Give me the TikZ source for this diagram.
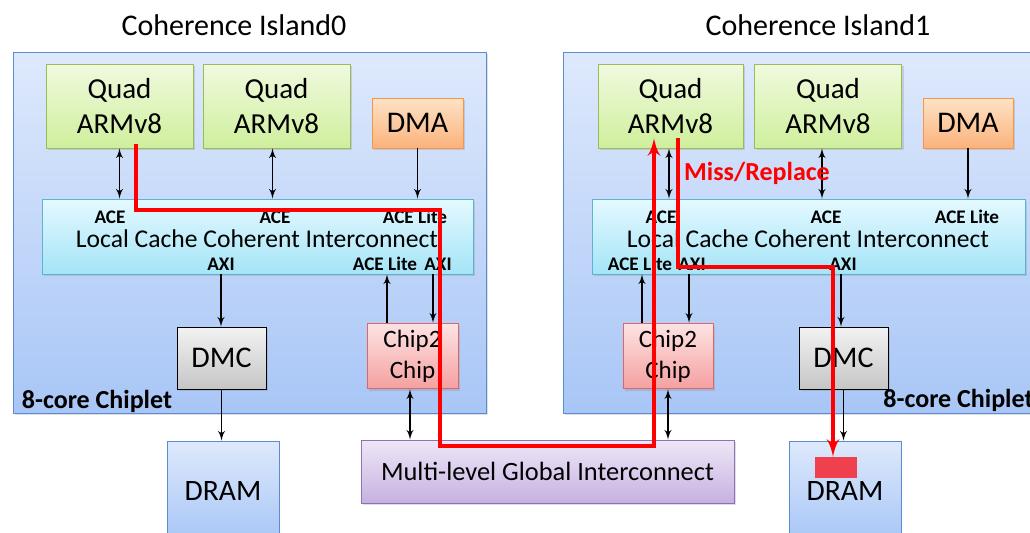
\documentclass[tikz,border=0pt]{standalone}
\usepackage{fontspec}
\setmainfont{Carlito}
\usetikzlibrary{shapes,arrows,shadows,positioning}
\definecolor{islline}{HTML}{5B8BD0}
\definecolor{isltop}{HTML}{DEE9FC}
\definecolor{islbot}{HTML}{A8C6F6}
\definecolor{quadline}{HTML}{9BBB59}
\definecolor{quadtop}{HTML}{F0FADF}
\definecolor{quadbot}{HTML}{CFEF9C}
\definecolor{dmaline}{HTML}{F79646}
\definecolor{dmatop}{HTML}{FDE3C6}
\definecolor{dmabot}{HTML}{FBB27C}
\definecolor{lcline}{HTML}{5FB3CE}
\definecolor{lctop}{HTML}{E4F9FF}
\definecolor{lcbot}{HTML}{A4E4F7}
\definecolor{c2cline}{HTML}{E06666}
\definecolor{c2ctop}{HTML}{FDE3E3}
\definecolor{c2cbot}{HTML}{F5A0A0}
\definecolor{glbline}{HTML}{8F72B6}
\definecolor{glbtop}{HTML}{EEE7F7}
\definecolor{glbbot}{HTML}{C7B1E1}
\definecolor{dramline}{HTML}{5B8BD0}
\definecolor{hitred}{HTML}{F0404E}

\begin{document}
\begin{tikzpicture}[x=0.5pt,y=-0.5pt]
	\tikzstyle{shade} = [drop shadow={shadow xshift=1.2pt, shadow yshift=-1.2pt, opacity=0.25}]
	\tikzstyle{chiplet} = [rectangle, draw=islline, top color=isltop, bottom color=islbot, minimum width=236.5pt, minimum height=180.5pt, shade]
	\tikzstyle{quad} = [rectangle, draw=quadline, top color=quadtop, bottom color=quadbot, minimum width=73.5pt, minimum height=42pt, align=center, font=\fontsize{14.5}{17.5}\selectfont, shade]
	\tikzstyle{dma} = [rectangle, draw=dmaline, top color=dmatop, bottom color=dmabot, minimum width=45.5pt, minimum height=25pt, font=\fontsize{15}{17}\selectfont, shade]
	\tikzstyle{lcci} = [rectangle, draw=lcline, top color=lctop, bottom color=lcbot, minimum height=37.5pt, shade]
	\tikzstyle{lctext} = [inner sep=0pt, font=\fontsize{12.8}{14}\selectfont]
	\tikzstyle{dmc} = [rectangle, draw=black, top color=gray!10, bottom color=gray!45, minimum width=44.5pt, minimum height=31pt, font=\fontsize{15}{17}\selectfont, shade]
	\tikzstyle{c2c} = [rectangle, draw=c2cline, top color=c2ctop, bottom color=c2cbot, minimum width=45.5pt, minimum height=31pt, align=center, font=\fontsize{12.5}{15.5}\selectfont, shade]
	\tikzstyle{dram} = [rectangle, draw=dramline, top color=isltop, bottom color=islbot, minimum width=56pt, minimum height=49.5pt, font=\fontsize{14.8}{16}\selectfont]
	\tikzstyle{port} = [inner sep=0pt, font=\bfseries\fontsize{9.6}{11}\selectfont]
	\tikzstyle{title} = [font=\fontsize{15}{17}\selectfont]
	\tikzstyle{chipname} = [inner sep=0pt, font=\bfseries\fontsize{13}{15}\selectfont]
	\tikzstyle{wire} = [line width=0.7pt, black]
	\tikzstyle{miss} = [line width=2pt, red]

	\clip (0,0) rectangle (1030,532);
	\fill[white] (0,0) rectangle (1030,532);

	\node[chiplet] (ISL0) at (249.5,232.5) {};
	\node[chiplet, minimum width=238.5pt] (ISL1) at (801.5,232.5) {};
	\node[title] (T0) at (234,25) {Coherence Island0};
	\node[title] (T1) at (818,25) {Coherence Island1};

	\node[quad] (Q00) at (119.5,106) {Quad\\ARMv8};
	\node[quad] (Q01) at (276.5,106) {Quad\\ARMv8};
	\node[dma] (DMA0) at (417.5,123) {DMA};
	\node[lcci, minimum width=215.5pt] (LC0) at (257.5,236.5) {};
	\node[dmc] (DMC0) at (221.5,358) {DMC};
	\node[c2c] (C2C0) at (412.5,356) {Chip2\\Chip};
	\node[dram] (DRAM0) at (223,490.5) {DRAM};

	\node[quad, minimum width=72.5pt] (Q10) at (670.5,106) {Quad\\ARMv8};
	\node[quad] (Q11) at (828,106) {Quad\\ARMv8};
	\node[dma, minimum width=45pt] (DMA1) at (968,123) {DMA};
	\node[lcci, minimum width=216.5pt] (LC1) at (808.5,236.5) {};
	\node[c2c, minimum width=45pt] (C2C1) at (668,356) {Chip2\\Chip};
	\node[dmc] (DMC1) at (843.5,358) {DMC};
	\node[dram] (DRAM1) at (845,490.5) {DRAM};

	\node[rectangle, draw=glbline, top color=glbtop, bottom color=glbbot, minimum width=186.5pt, minimum height=31.5pt, font=\fontsize{13.2}{15}\selectfont, shade] (GLB) at (547.5,471.5) {Multi-level Global Interconnect};
	\node[rectangle, fill=hitred, minimum width=21pt, minimum height=10.5pt, inner sep=0pt] (HIT) at (836,467.5) {};

	\node[lctext] (LT0) at (257,238.5) {Local Cache Coherent Interconnect};
	\node[port] (ACE00) at (110,217) {ACE};
	\node[port] (ACE01) at (275,217) {ACE};
	\node[port] (ACLT0) at (415,217) {ACE Lite};
	\node[port] (AXI0) at (221,264) {AXI};
	\node[port] (ACL0) at (385,264) {ACE Lite};
	\node[port] (AXIC0) at (438,264) {AXI};
	\node[chipname] (CH0) at (97,401) {8-core Chiplet};

	\node[lctext] (LT1) at (808,238.5) {Local Cache Coherent Interconnect};
	\node[port] (ACE10) at (661,217) {ACE};
	\node[port] (ACE11) at (826,217) {ACE};
	\node[port] (ACLT1) at (967,217) {ACE Lite};
	\node[port] (ACL1) at (640,264) {ACE Lite};
	\node[port] (AXIC1) at (692,264) {AXI};
	\node[port] (AXI1) at (843,264) {AXI};
	\node[chipname, anchor=west] (CH1) at (883,400) {8-core Chiplet};

	\draw[wire, latex'-latex'] (Q00.south) -- (Q00.south |- LC0.north);
	\draw[wire, latex'-latex'] ([xshift=-2pt]Q01.south) -- ([xshift=-2pt]Q01.south |- LC0.north);
	\draw[wire, -latex'] (DMA0.south) -- (DMA0.south |- LC0.north);
	\draw[wire, -latex'] (AXI0 |- LC0.south) -- (AXI0 |- DMC0.north);
	\draw[wire, -latex'] ([xshift=1pt]C2C0.north -| ACL0) -- ([xshift=1pt]ACL0 |- LC0.south);
	\draw[wire, -latex'] ([xshift=-2.5pt]AXIC0 |- LC0.south) -- ([xshift=-2.5pt]AXIC0 |- C2C0.north);
	\draw[wire, latex'-latex'] ([xshift=-1.25pt]C2C0.south) -- ([xshift=-1.25pt]C2C0.south |- GLB.north);
	\draw[wire, -latex'] (DMC0.south) -- (DMC0.south |- DRAM0.north);

	\draw[wire, latex'-latex'] ([xshift=-0.75pt]Q10.south) -- ([xshift=-0.75pt]Q10.south |- LC1.north);
	\draw[wire, latex'-latex'] ([xshift=-3pt]Q11.south) -- ([xshift=-3pt]Q11.south |- LC1.north);
	\draw[wire, -latex'] (DMA1.south) -- (DMA1.south |- LC1.north);
	\draw[wire, -latex'] ([xshift=1pt]C2C1.north -| ACL1) -- ([xshift=1pt]ACL1 |- LC1.south);
	\draw[wire, -latex'] ([xshift=-1.5pt]AXIC1 |- LC1.south) -- ([xshift=-1.5pt]AXIC1 |- C2C1.north);
	\draw[wire, -latex'] ([xshift=-1pt]AXI1 |- LC1.south) -- ([xshift=-1pt]AXI1 |- DMC1.north);
	\draw[wire, latex'-latex'] (C2C1.south) -- (C2C1.south |- GLB.north);
	\draw[wire, -latex'] (DMC1.south) -- (DMC1.south |- DRAM1.north);

	\coordinate (R1) at (440,210);
	\coordinate (R2) at (654,446);
	\coordinate (R3) at (833,267);
	\draw[miss, -latex'] ([xshift=8.25pt,yshift=2pt]Q00.south) |- (R1) |- (R2) -- ([xshift=-8.25pt,yshift=5pt]Q10.south);
	\draw[miss, -latex'] ([xshift=3.75pt,yshift=5pt]Q10.south) |- (R3) -- (R3 |- HIT.north);
	\node[red, font=\bfseries\fontsize{13}{15}\selectfont] (MR) at (757,173) {Miss/Replace};
\end{tikzpicture}
\end{document}
